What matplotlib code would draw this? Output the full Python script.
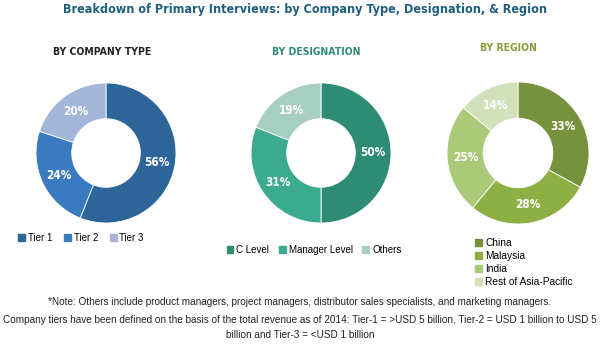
import numpy as np
import matplotlib.pyplot as plt
from matplotlib.patches import Patch

plt.rcParams['font.family'] = ['DejaVu Sans']

# data
tier_labels = ['Tier 1', 'Tier 2', 'Tier 3']
tier_vals = [56, 24, 20]
tier_colors = ['#2E6599', '#3A7BC0', '#A3B6D7']

desig_labels = ['C Level', 'Manager Level', 'Others']
desig_vals = [50, 31, 19]
desig_colors = ['#2E8B74', '#3BAA8E', '#A7CFC1']

region_labels = ['China', 'Malaysia', 'India', 'Rest of Asia-Pacific']
region_vals = [33, 28, 25, 14]
region_colors = ['#76923C', '#8DB045', '#AACA7A', '#D2E1BA']

W, H = 600, 347
fig = plt.figure(figsize=(6, 3.47), dpi=100)

cond = dict(family='DejaVu Sans', stretch='condensed', fontweight='bold')


def donut(cx, cy, r, vals, colors):
    ax = fig.add_axes([(cx - r) / W, (H - cy - r) / H, 2 * r / W, 2 * r / H])
    ax.pie(vals, colors=colors, startangle=90, counterclock=False, radius=1,
           wedgeprops=dict(width=0.51, edgecolor='white', linewidth=0.6))
    ang = 90
    for v in vals:
        mid = np.deg2rad(ang - v * 3.6 / 2)
        ax.text(0.74 * np.cos(mid), 0.74 * np.sin(mid), f'{v}%', ha='center', va='center',
                color='white', fontsize=8.5, **cond)
        ang -= v * 3.6
    ax.set_xlim(-1, 1)
    ax.set_ylim(-1, 1)
    ax.set_aspect('equal')
    ax.axis('off')


donut(106, 153, 70, tier_vals, tier_colors)
donut(321, 153, 70, desig_vals, desig_colors)
donut(518, 153, 71, region_vals, region_colors)

fig.text(305 / W, 1 - 10 / H, 'Breakdown of Primary Interviews: by Company Type, Designation, & Region',
         ha='center', va='center', fontsize=9, color='#1F5F7F', **cond)
fig.text(102 / W, 1 - 52 / H, 'BY COMPANY TYPE', ha='center', va='center', fontsize=7.5,
         color='#222222', **cond)
fig.text(316 / W, 1 - 52 / H, 'BY DESIGNATION', ha='center', va='center', fontsize=7.5,
         color='#2E8B74', **cond)
fig.text(508 / W, 1 - 48 / H, 'BY REGION', ha='center', va='center', fontsize=7.5,
         color='#8A9A3B', **cond)

kw = dict(frameon=False, handlelength=0.7, handleheight=0.7, handletextpad=0.3,
          borderpad=0, borderaxespad=0)

fig.legend([Patch(color=c) for c in tier_colors], tier_labels, ncol=3, columnspacing=1.2,
           loc='center', bbox_to_anchor=(81 / W, 1 - 238 / H),
           prop={'family': 'Liberation Sans', 'size': 7}, **kw)
fig.legend([Patch(color=c) for c in desig_colors], desig_labels, ncol=3, columnspacing=1.0,
           loc='center', bbox_to_anchor=(314 / W, 1 - 250 / H),
           prop={'family': 'Liberation Sans', 'size': 7}, **kw)
fig.legend([Patch(color=c) for c in region_colors], region_labels, ncol=1, labelspacing=0.3,
           loc='upper left', bbox_to_anchor=(475 / W, 1 - 238 / H),
           prop={'family': 'Liberation Sans', 'size': 7.3}, **kw)

fig.text(0.5, 1 - 302 / H, '*Note: Others include product managers, project managers, distributor sales '
         'specialists, and marketing managers.', ha='center', va='center', fontsize=7.2,
         family='Liberation Sans', color='#222222')
fig.text(0.5, 1 - 320 / H, 'Company tiers have been defined on the basis of the total revenue as of 2014: '
         'Tier-1 = >USD 5 billion, Tier-2 = USD 1 billion to USD 5',
         ha='center', va='center', fontsize=7.2, family='Liberation Sans', color='#222222')
fig.text(0.5, 1 - 335 / H, 'billion and Tier-3 = <USD 1 billion',
         ha='center', va='center', fontsize=7.2, family='Liberation Sans', color='#222222')

fig.savefig('out.png', dpi=100, facecolor='white')
